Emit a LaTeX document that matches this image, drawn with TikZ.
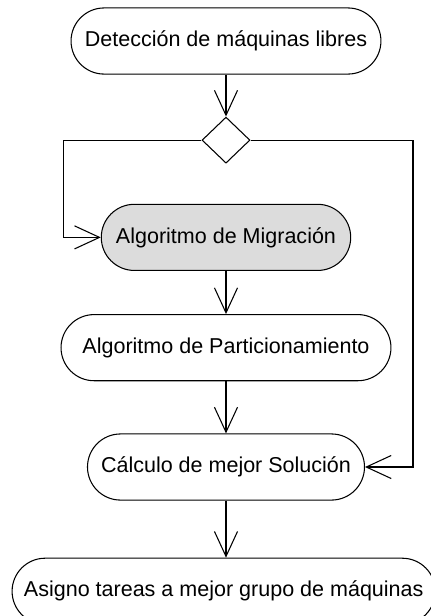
\documentclass[tikz,border=0pt]{standalone}
\usepackage{fontspec}
\setmainfont{Liberation Sans}
\usepackage{xcolor}
\usepackage{tikz}
\usetikzlibrary{arrows.meta,positioning,shapes.geometric}
\definecolor{actline}{HTML}{000000}
\definecolor{actgray}{HTML}{DCDCDC}

\begin{document}
\begin{tikzpicture}[>={Straight Barb[length=6.6mm,width=6.1mm]},font=\fontsize{16.2}{19}\selectfont]
\tikzset{act/.style={draw=actline,line width=0.8pt,rectangle,rounded corners=8.75mm,minimum height=17.5mm,inner xsep=2pt,align=center,fill=white},
decision/.style={draw=actline,line width=0.8pt,diamond,inner sep=0pt,minimum width=12.7mm,minimum height=12.2mm},
arr/.style={->,line width=0.8pt,color=actline}}
\path[use as bounding box] (-59.8mm,10.85mm) rectangle ++(113.8mm,-163mm);
\node[act,minimum width=82mm] (det) at (0,0) {Detección de máquinas libres};
\node[decision,below=11.1mm of det] (dec) {};
\node[act,fill=actgray,minimum width=66mm,below=10.6mm of dec] (mig) {Algoritmo de Migración};
\node[act,minimum width=87.3mm,below=11.4mm of mig] (part) {Algoritmo de Particionamiento};
\node[act,minimum width=73.3mm,below=13.8mm of part] (calc) {Cálculo de mejor Solución};
\node[act,minimum width=112mm,below=15.1mm of calc,xshift=-0.6mm] (asig) {Asigno tareas a mejor grupo de máquinas};
\draw[arr] (det)--(dec);
\draw[arr] (dec.west) -| ([xshift=-9.8mm]mig.west) -- (mig.west);
\draw[arr] (dec.east) -| ([xshift=12.7mm]calc.east) -- (calc.east);
\draw[arr] (mig)--(part);
\draw[arr] (part)--(calc);
\draw[arr] (calc)--(calc|-asig.north);
\end{tikzpicture}
\end{document}
